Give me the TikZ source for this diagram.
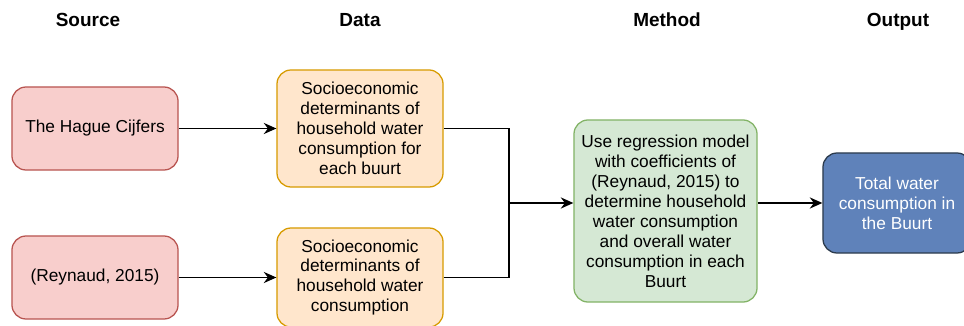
\documentclass[tikz,border=0pt]{standalone}
\usepackage{fontspec}
\setmainfont{Liberation Sans}
\usetikzlibrary{arrows.meta}

\definecolor{srcfill}{HTML}{F8CECC}
\definecolor{srcline}{HTML}{B85450}
\definecolor{datfill}{HTML}{FFE6CC}
\definecolor{datline}{HTML}{D79B00}
\definecolor{methfill}{HTML}{D5E8D4}
\definecolor{methline}{HTML}{82B366}
\definecolor{outfill}{HTML}{5F82BA}
\definecolor{outline}{HTML}{2B3A4C}

\tikzset{
  box/.style={rectangle, rounded corners=10pt, line width=0.9pt, align=center,
    inner sep=2pt, font=\fontsize{12.3}{14.2}\selectfont},
  srcbox/.style={box, fill=srcfill, draw=srcline, minimum width=4.15cm, minimum height=2.075cm},
  datbox/.style={box, fill=datfill, draw=datline, minimum width=4.15cm},
  methbox/.style={box, fill=methfill, draw=methline, minimum width=4.575cm, minimum height=4.55cm},
  outbox/.style={box, fill=outfill, draw=outline, text=white, minimum width=3.7cm, minimum height=2.5cm},
  head/.style={anchor=base, font=\bfseries\fontsize{13.5}{15}\selectfont},
  flow/.style={-{Stealth[length=9pt,width=8pt,inset=3pt]}, line width=0.9pt},
}

\begin{document}
\begin{tikzpicture}[x=0.025cm, y=-0.025cm]
      \pgfmathsetmacro{\joinx}{509};
      \pgfmathsetmacro{\joiny}{203};

      \useasboundingbox (0,0) rectangle (964,326);

      % column titles
      \node[head] (hsrc) at (88,27) {Source};
      \node[head] (hdat) at (360,27) {Data};
      \node[head] (hmeth) at (667,27) {Method};
      \node[head] (hout) at (898,27) {Output};

      \node[srcbox] (src1) at (95,128.5) {The Hague Cijfers};
      \node[srcbox] (src2) at (95,277.5) {(Reynaud, 2015)};

      \node[
      datbox,
      minimum height=2.925cm
      ] (dat1) at (360,128.5) {Socioeconomic\\determinants of\\household water\\consumption for\\each buurt};

      \node[
      datbox,
      minimum height=2.475cm
      ] (dat2) at (360,277.5) {Socioeconomic\\determinants of\\household water\\consumption};

      \node[methbox] (meth) at (665.5,211) {Use regression model\\with coefficients of\\(Reynaud, 2015) to\\determine household\\water consumption\\and overall water\\consumption in each\\Buurt};

      \node[outbox] (out) at (897,203) {Total water\\consumption in\\the Buurt};

      \coordinate (join) at (\joinx,\joiny);

      \draw[flow] (src1) -- (dat1);
      \draw[flow] (src2) -- (dat2);
      \draw[line width=0.9pt] (dat1.east) -| (join);
      \draw[line width=0.9pt] (dat2.east) -| (join);
      \draw[flow] (join) -- (meth.west |- join);
      \draw[flow] (meth.east |- out.west) -- (out.west);

      % \draw[red] (0,0) grid[step=50] (964,326);
    \end{tikzpicture}
\end{document}
